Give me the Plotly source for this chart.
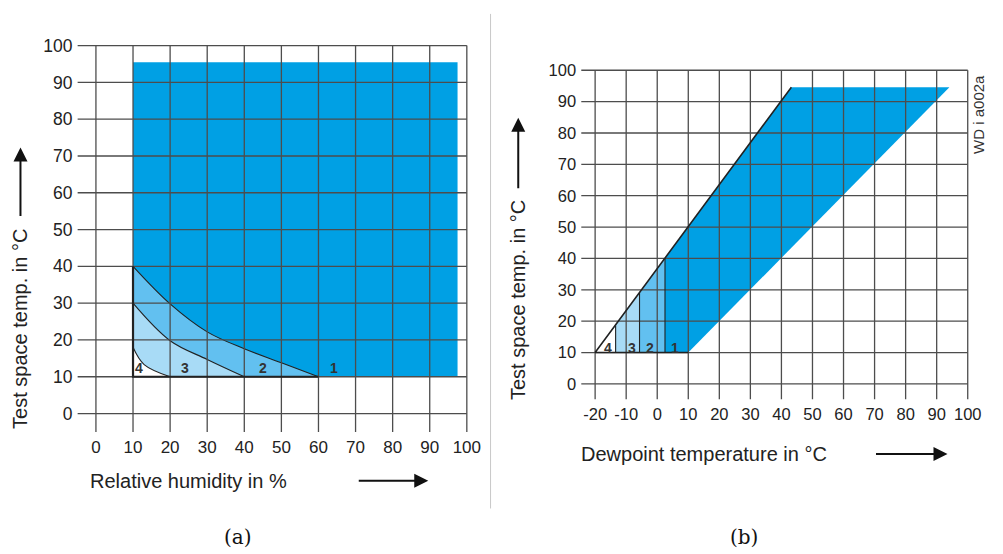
import plotly.graph_objects as go

# ---------------- Chart (a): relative humidity vs test space temperature ----------------
rh_ticks = list(range(0, 101, 10))
temp_ticks_a = list(range(0, 101, 10))
field_a_rh = [10, 97.5, 97.5, 10]
field_a_temp = [10, 10, 95.5, 95.5]
curve1_rh = [10, 20, 30, 40, 50, 60]
curve1_temp = [40, 29.8, 22.2, 17.6, 13.8, 10]
curve2_rh = [10, 20, 30, 40]
curve2_temp = [30, 19.8, 14.7, 10]
curve3_rh = [10, 13, 20]
curve3_temp = [18, 13.3, 10]
zone_names = ["1", "2", "3", "4"]
zone_label_rh = [64.3, 45, 24, 11.7]
zone_label_temp_a = 12.4

# ---------------- Chart (b): dewpoint vs test space temperature ----------------
dew_ticks = list(range(-20, 101, 10))
dew_tick_labels = ["-20", "-10", "0", "10", "20", "30", "40", "50", "60", "70", "80", "90", "100"]
temp_ticks_b = list(range(0, 101, 10))
field_b_dew = [-20, 43.2, 94.1, 10]
field_b_temp = [10, 94.6, 94.6, 10]
zone_dew = [-20, -13.4, -5.7, 2.5]
zone_top_temp = [10, 18.6, 29.2, 40]
zone_label_dew = [5.6, -2.4, -8.1, -15.8]
zone_label_temp_b = 11.5

DARK = "#00a0e4"
MID = "#62c0f0"
LIGHT = "#a8dbf6"
GRID = "#4d4d4d"
EDGE = "#222222"
TXT = "#222222"
FONT = "Liberation Sans, Arial, sans-serif"

W, H = 1003, 554
def px(x):
    return x / W
def py(y):
    return 1 - y / H

fig = go.Figure()

# ---- (a) fills
fig.add_trace(go.Scatter(x=field_a_rh, y=field_a_temp, fill="toself", fillcolor=DARK,
                         mode="lines", line=dict(width=0), xaxis="x", yaxis="y", hoverinfo="skip"))
for crv_x, crv_y, col in [(curve1_rh, curve1_temp, MID), (curve2_rh, curve2_temp, LIGHT),
                          (curve3_rh, curve3_temp, "#ffffff")]:
    fig.add_trace(go.Scatter(x=[crv_x[0], crv_x[-1]], y=[crv_y[-1], crv_y[-1]], mode="lines",
                             line=dict(width=0), xaxis="x", yaxis="y", hoverinfo="skip"))
    fig.add_trace(go.Scatter(x=crv_x, y=crv_y, fill="tonexty", fillcolor=col, mode="lines",
                             line=dict(color=EDGE, width=1.1, shape="spline", smoothing=1.0),
                             xaxis="x", yaxis="y", hoverinfo="skip"))

# ---- (a) grid
gx, gy = [], []
for v in rh_ticks:
    gx += [v, v, None]
    gy += [-5, 100, None]
for v in temp_ticks_a:
    gx += [-5, 100, None]
    gy += [v, v, None]
fig.add_trace(go.Scatter(x=gx, y=gy, mode="lines", line=dict(color=GRID, width=1.3),
                         xaxis="x", yaxis="y", hoverinfo="skip"))
# ---- (a) heavy edges of the lower zones
fig.add_trace(go.Scatter(x=[curve1_rh[0], curve1_rh[0], curve1_rh[-1]],
                         y=[curve1_temp[0], curve1_temp[-1], curve1_temp[-1]], mode="lines",
                         line=dict(color=EDGE, width=2.2), xaxis="x", yaxis="y", hoverinfo="skip"))

# ---- (b) fills
fig.add_trace(go.Scatter(x=field_b_dew, y=field_b_temp, fill="toself", fillcolor=DARK,
                         mode="lines", line=dict(width=0), xaxis="x2", yaxis="y2", hoverinfo="skip"))
zone_cols = ["#ffffff", LIGHT, MID]
for i in range(3):
    x0, x1 = zone_dew[i], zone_dew[i + 1]
    t0, t1 = zone_top_temp[i], zone_top_temp[i + 1]
    base = zone_top_temp[0]
    fig.add_trace(go.Scatter(x=[x0, x0, x1, x1], y=[base, t0, t1, base], fill="toself",
                             fillcolor=zone_cols[i], mode="lines", line=dict(width=0),
                             xaxis="x2", yaxis="y2", hoverinfo="skip"))

# ---- (b) grid
gx, gy = [], []
for v in dew_ticks:
    gx += [v, v, None]
    gy += [-5, 100, None]
for v in temp_ticks_b:
    gx += [-24.5, 100, None]
    gy += [v, v, None]
fig.add_trace(go.Scatter(x=gx, y=gy, mode="lines", line=dict(color=GRID, width=1.3),
                         xaxis="x2", yaxis="y2", hoverinfo="skip"))
# ---- (b) edges
ex, ey = [], []
for i in range(1, 4):
    ex += [zone_dew[i], zone_dew[i], None]
    ey += [zone_top_temp[0], zone_top_temp[i], None]
fig.add_trace(go.Scatter(x=ex, y=ey, mode="lines", line=dict(color=EDGE, width=1.1),
                         xaxis="x2", yaxis="y2", hoverinfo="skip"))
fig.add_trace(go.Scatter(x=[field_b_dew[1], field_b_dew[0], field_b_dew[3]],
                         y=[field_b_temp[1], field_b_temp[0], field_b_temp[3]], mode="lines",
                         line=dict(color=EDGE, width=1.6), xaxis="x2", yaxis="y2", hoverinfo="skip"))

# ---- zone labels
ann = []
for name, xv in zip(zone_names, zone_label_rh):
    ann.append(dict(x=xv, y=zone_label_temp_a, xref="x", yref="y", text="<b>%s</b>" % name,
                    showarrow=False, xanchor="center", yanchor="middle",
                    font=dict(family=FONT, size=14, color="#333333")))
for name, xv in zip(zone_names, zone_label_dew):
    ann.append(dict(x=xv, y=zone_label_temp_b, xref="x2", yref="y2", text="<b>%s</b>" % name,
                    showarrow=False, xanchor="center", yanchor="middle",
                    font=dict(family=FONT, size=14, color="#333333")))

def label(xp, yp, text, size, angle=0, family=FONT, color=TXT, xanchor="center"):
    return dict(x=px(xp), y=py(yp), xref="paper", yref="paper", text=text, textangle=angle,
                showarrow=False, xanchor=xanchor, yanchor="middle",
                font=dict(family=family, size=size, color=color))

# ---- axis titles and captions
ann += [
    label(20.7, 326, "Test space temp. in °C", 20, -90),
    label(89, 480, "Relative humidity in %", 20, xanchor="left"),
    label(524, 297, "Test space temp. in °C", 20, -90),
    label(585, 453, "Dewpoint temperature in °C", 20, xanchor="left"),
    label(990, 110, "WD i a002a", 15, -90, color="#333333"),
    label(241, 537, "(a)", 20, family="DejaVu Serif, serif", color="#111111"),
    label(752, 537, "(b)", 20, family="DejaVu Serif, serif", color="#111111"),
]
# ---- arrows
for hx, hy, tx, ty in [(20.7, 143, 20.7, 213), (433, 480, 362, 480),
                       (524, 113, 524, 185), (958, 453, 885, 453)]:
    ann.append(dict(x=px(hx), y=py(hy), xref="paper", yref="paper", ax=tx - hx, ay=ty - hy,
                    text="", showarrow=True, arrowhead=2, arrowsize=1.4, arrowwidth=2,
                    arrowcolor="#111111"))

axis_common = dict(showgrid=False, zeroline=False, showline=False, ticks="", fixedrange=True)
fig.update_layout(
    width=W, height=H, margin=dict(l=0, r=0, t=0, b=0),
    paper_bgcolor="white", plot_bgcolor="white", showlegend=False,
    xaxis=dict(domain=[px(78.25), px(475.75)], range=[-5, 101], tickvals=rh_ticks,
               tickfont=dict(family=FONT, size=17, color=TXT), anchor="y",
               ticklabelstandoff=3, **axis_common),
    yaxis=dict(domain=[py(430.6), py(36.3)], range=[-5, 101], tickvals=temp_ticks_a,
               tickfont=dict(family=FONT, size=17.5, color=TXT), anchor="x",
               ticklabelstandoff=4, **axis_common),
    xaxis2=dict(domain=[px(587.6), px(981.6)], range=[-24.5, 101], tickvals=dew_ticks,
                ticktext=dew_tick_labels,
                tickfont=dict(family=FONT, size=16.5, color=TXT), anchor="y2",
                ticklabelstandoff=3, **axis_common),
    yaxis2=dict(domain=[py(397.9), py(61.8)], range=[-5, 101], tickvals=temp_ticks_b,
                tickfont=dict(family=FONT, size=16.5, color=TXT), anchor="x2",
                ticklabelstandoff=4, **axis_common),
    annotations=ann,
    shapes=[dict(type="line", xref="paper", yref="paper", x0=px(496), x1=px(496),
                 y0=py(8), y1=py(508), line=dict(color="#c8c8c8", width=1))],
)

fig.write_html("out.html")
